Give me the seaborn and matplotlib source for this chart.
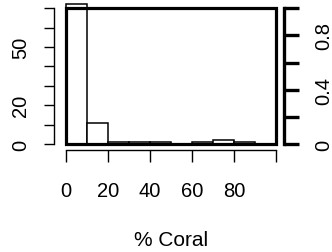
import numpy as np
import matplotlib
matplotlib.use("Agg")
import matplotlib.pyplot as plt
import seaborn as sns
from matplotlib.patches import Rectangle

# histogram of % coral cover, counts per 10% bin
bin_edges = [0, 10, 20, 30, 40, 50, 60, 70, 80, 90, 100]
counts = [72, 11, 1, 1, 1, 0, 1, 2, 1, 0]

xticks = [0, 20, 40, 60, 80, 100]
xtick_labels = ['0', '20', '40', '60', '80', '']
yticks = [0, 10, 20, 30, 40, 50, 60, 70]
ytick_labels = ['0', '', '20', '', '', '50', '', '']
y2ticks = [0, 0.2, 0.4, 0.6, 0.8, 1.0]
y2tick_labels = ['0', '', '0.4', '', '0.8', '']
xlabel = '% Coral'

plt.rcParams['font.family'] = ['Liberation Sans', 'DejaVu Sans']

W, H = 332, 253
fig = plt.figure(figsize=(W / 100, H / 100), dpi=100)
x0, x1 = 65.7, 276.0
ytop, ybot = 9.3, 145.0
ax = fig.add_axes([x0 / W, (H - ybot) / H, (x1 - x0) / W, (ybot - ytop) / H])

mids = [(a + b) / 2 for a, b in zip(bin_edges[:-1], bin_edges[1:])]
sns.histplot(x=mids, weights=counts, bins=bin_edges, ax=ax, color='white',
             edgecolor='black', linewidth=1.1, alpha=1)
for p in ax.patches:
    p.set_clip_on(False)

ax.set_xlim(0, 100)
ax.set_ylim(0, 70)
ax.set_ylabel('')
ax.set_xlabel(xlabel, fontsize=15, labelpad=21)

for s in ['top', 'right']:
    ax.spines[s].set_visible(False)
ax.spines['left'].set_position(('outward', 8.2))
ax.spines['left'].set_bounds(0, 70)
ax.spines['bottom'].set_position(('outward', 4.3))
ax.spines['bottom'].set_bounds(0, 100)
for s in ['left', 'bottom']:
    ax.spines[s].set_linewidth(1.0)

ax.set_xticks(xticks)
ax.set_xticklabels(xtick_labels, fontsize=14.5)
ax.set_yticks(yticks)
ax.set_yticklabels(ytick_labels, fontsize=14.5, rotation=90, va='center')
ax.tick_params(axis='x', length=8.6, width=1.0, pad=14)
ax.tick_params(axis='y', length=7.2, width=1.0, pad=10)

# thick box around the plot region
ax.add_patch(Rectangle((0, 0), 1, 1, transform=ax.transAxes, fill=False,
                       lw=2.3, edgecolor='black', clip_on=False, zorder=5))

ax2 = ax.twinx()
ax2.set_ylim(0, 1)
for s in ['left', 'top', 'bottom']:
    ax2.spines[s].set_visible(False)
ax2.spines['right'].set_position(('outward', 5.8))
ax2.spines['right'].set_bounds(0, 1)
ax2.spines['right'].set_linewidth(2.4)
ax2.set_yticks(y2ticks)
ax2.set_yticklabels(y2tick_labels, fontsize=14.5, rotation=90, va='center')
ax2.tick_params(axis='y', length=10.5, width=2.4, pad=11)

fig.savefig('out.png', dpi=100)
